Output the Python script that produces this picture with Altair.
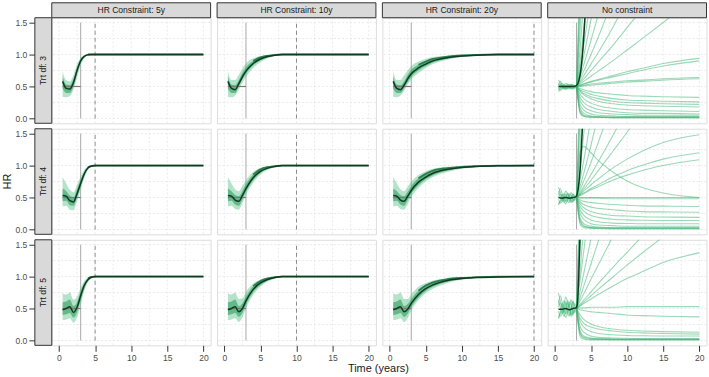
import altair as alt
import pandas as pd

# ---------------- labels / ticks ----------------
COL_LABELS = ["HR Constraint: 5y", "HR Constraint: 10y", "HR Constraint: 20y", "No constraint"]
ROW_LABELS = ["Trt df: 3", "Trt df: 4", "Trt df: 5"]
CONSTRAINT_AT = [5, 10, 20]
X_TICKS = [0, 5, 10, 15, 20]
Y_TICKS = [0.0, 0.5, 1.0, 1.5]
GRID_X = [0, 2.5, 5, 7.5, 10, 12.5, 15, 17.5, 20]
GRID_Y = [0, 0.25, 0.5, 0.75, 1.0, 1.25, 1.5]
CHANGE_POINT = 3
TRUE_HR = 0.5
TRUE_START = 0.5

# ---------------- constrained panels: time grids ----------------
X5 = [0.5, 1, 1.5, 2, 2.5, 3, 3.5, 4, 4.5, 5, 20]
X10 = [0.5, 1, 1.5, 2, 2.5, 3, 4, 5, 6, 7, 8, 10, 20]
X20 = [0.5, 1, 1.5, 2, 2.5, 3, 4, 5, 6, 8, 10, 12, 15, 20]

# Trt df 3
DF3_C5_LO = [0.34, 0.33, 0.35, 0.45, 0.64, 0.83, 0.94, 0.985, 1.0, 1.0, 1.0]
DF3_C5_LOIN = [0.47, 0.40, 0.40, 0.50, 0.70, 0.87, 0.955, 0.99, 1.0, 1.0, 1.0]
DF3_C5_MED = [0.58, 0.47, 0.46, 0.56, 0.75, 0.90, 0.97, 0.995, 1.0, 1.0, 1.0]
DF3_C5_HIIN = [0.66, 0.53, 0.52, 0.62, 0.80, 0.93, 0.98, 1.0, 1.0, 1.0, 1.0]
DF3_C5_HI = [0.74, 0.60, 0.58, 0.68, 0.85, 0.95, 0.99, 1.0, 1.0, 1.0, 1.0]

DF3_C10_LO = [0.34, 0.33, 0.36, 0.45, 0.56, 0.65, 0.79, 0.88, 0.94, 0.975, 0.99, 1.0, 1.0]
DF3_C10_LOIN = [0.47, 0.40, 0.40, 0.50, 0.61, 0.70, 0.83, 0.91, 0.955, 0.985, 0.995, 1.0, 1.0]
DF3_C10_MED = [0.58, 0.47, 0.45, 0.54, 0.65, 0.74, 0.86, 0.93, 0.97, 0.99, 1.0, 1.0, 1.0]
DF3_C10_HIIN = [0.66, 0.53, 0.52, 0.60, 0.71, 0.80, 0.90, 0.955, 0.98, 0.995, 1.0, 1.0, 1.0]
DF3_C10_HI = [0.74, 0.60, 0.60, 0.68, 0.78, 0.86, 0.94, 0.975, 0.99, 1.0, 1.0, 1.0, 1.0]

DF3_C20_LO = [0.34, 0.33, 0.36, 0.43, 0.53, 0.61, 0.71, 0.79, 0.85, 0.92, 0.96, 0.98, 0.995, 1.0]
DF3_C20_LOIN = [0.47, 0.40, 0.40, 0.47, 0.57, 0.65, 0.75, 0.82, 0.875, 0.935, 0.965, 0.985, 0.997, 1.0]
DF3_C20_MED = [0.58, 0.47, 0.45, 0.52, 0.62, 0.70, 0.79, 0.85, 0.90, 0.95, 0.975, 0.99, 1.0, 1.0]
DF3_C20_HIIN = [0.66, 0.53, 0.52, 0.58, 0.68, 0.76, 0.84, 0.89, 0.93, 0.965, 0.985, 0.995, 1.0, 1.0]
DF3_C20_HI = [0.74, 0.60, 0.60, 0.67, 0.75, 0.82, 0.89, 0.93, 0.96, 0.98, 0.99, 0.995, 1.0, 1.0]

# Trt df 4
DF4_C5_LO = [0.36, 0.37, 0.31, 0.30, 0.44, 0.62, 0.80, 0.93, 0.985, 1.0, 1.0]
DF4_C5_LOIN = [0.44, 0.45, 0.38, 0.37, 0.50, 0.67, 0.84, 0.945, 0.99, 1.0, 1.0]
DF4_C5_MED = [0.53, 0.52, 0.45, 0.43, 0.56, 0.72, 0.87, 0.96, 0.99, 1.0, 1.0]
DF4_C5_HIIN = [0.64, 0.60, 0.53, 0.50, 0.63, 0.78, 0.90, 0.975, 0.995, 1.0, 1.0]
DF4_C5_HI = [0.82, 0.72, 0.62, 0.58, 0.70, 0.83, 0.93, 0.985, 1.0, 1.0, 1.0]

DF4_C10_LO = [0.36, 0.37, 0.32, 0.31, 0.41, 0.54, 0.73, 0.86, 0.93, 0.97, 0.99, 1.0, 1.0]
DF4_C10_LOIN = [0.44, 0.45, 0.39, 0.37, 0.47, 0.59, 0.77, 0.885, 0.945, 0.978, 0.995, 1.0, 1.0]
DF4_C10_MED = [0.53, 0.52, 0.46, 0.44, 0.53, 0.64, 0.81, 0.91, 0.96, 0.985, 1.0, 1.0, 1.0]
DF4_C10_HIIN = [0.64, 0.60, 0.54, 0.52, 0.60, 0.71, 0.86, 0.94, 0.975, 0.99, 1.0, 1.0, 1.0]
DF4_C10_HI = [0.82, 0.72, 0.63, 0.60, 0.68, 0.77, 0.90, 0.96, 0.985, 0.995, 1.0, 1.0, 1.0]

DF4_C20_LO = [0.36, 0.37, 0.32, 0.31, 0.40, 0.51, 0.65, 0.75, 0.82, 0.90, 0.95, 0.975, 0.99, 1.0]
DF4_C20_LOIN = [0.44, 0.45, 0.39, 0.37, 0.46, 0.56, 0.69, 0.785, 0.85, 0.92, 0.96, 0.98, 0.993, 1.0]
DF4_C20_MED = [0.53, 0.52, 0.46, 0.44, 0.52, 0.61, 0.74, 0.82, 0.88, 0.94, 0.97, 0.985, 0.995, 1.0]
DF4_C20_HIIN = [0.64, 0.60, 0.54, 0.52, 0.59, 0.68, 0.80, 0.87, 0.92, 0.96, 0.98, 0.99, 0.998, 1.0]
DF4_C20_HI = [0.82, 0.72, 0.63, 0.60, 0.67, 0.75, 0.85, 0.91, 0.95, 0.98, 0.99, 0.995, 1.0, 1.0]

# Trt df 5
DF5_C5_LO = [0.32, 0.33, 0.35, 0.28, 0.36, 0.56, 0.77, 0.91, 0.975, 1.0, 1.0]
DF5_C5_LOIN = [0.40, 0.41, 0.43, 0.36, 0.44, 0.63, 0.81, 0.93, 0.985, 1.0, 1.0]
DF5_C5_MED = [0.48, 0.50, 0.53, 0.44, 0.52, 0.70, 0.86, 0.95, 0.99, 1.0, 1.0]
DF5_C5_HIIN = [0.60, 0.61, 0.64, 0.54, 0.60, 0.77, 0.90, 0.97, 0.995, 1.0, 1.0]
DF5_C5_HI = [0.74, 0.72, 0.75, 0.64, 0.68, 0.82, 0.93, 0.98, 1.0, 1.0, 1.0]

DF5_C10_LO = [0.32, 0.33, 0.35, 0.29, 0.36, 0.50, 0.71, 0.84, 0.92, 0.965, 0.99, 1.0, 1.0]
DF5_C10_LOIN = [0.40, 0.41, 0.43, 0.37, 0.43, 0.56, 0.755, 0.87, 0.94, 0.975, 0.995, 1.0, 1.0]
DF5_C10_MED = [0.48, 0.50, 0.53, 0.45, 0.50, 0.62, 0.80, 0.90, 0.955, 0.985, 1.0, 1.0, 1.0]
DF5_C10_HIIN = [0.60, 0.61, 0.64, 0.54, 0.58, 0.69, 0.85, 0.93, 0.97, 0.99, 1.0, 1.0, 1.0]
DF5_C10_HI = [0.74, 0.72, 0.75, 0.65, 0.66, 0.76, 0.89, 0.955, 0.985, 0.995, 1.0, 1.0, 1.0]

DF5_C20_LO = [0.32, 0.33, 0.35, 0.29, 0.35, 0.47, 0.63, 0.74, 0.81, 0.90, 0.95, 0.975, 0.99, 1.0]
DF5_C20_LOIN = [0.40, 0.41, 0.43, 0.37, 0.42, 0.52, 0.67, 0.775, 0.84, 0.92, 0.96, 0.98, 0.993, 1.0]
DF5_C20_MED = [0.48, 0.50, 0.53, 0.45, 0.49, 0.58, 0.72, 0.81, 0.87, 0.94, 0.97, 0.985, 0.995, 1.0]
DF5_C20_HIIN = [0.60, 0.61, 0.64, 0.54, 0.57, 0.65, 0.78, 0.86, 0.91, 0.96, 0.98, 0.99, 0.998, 1.0]
DF5_C20_HI = [0.74, 0.72, 0.75, 0.65, 0.65, 0.72, 0.84, 0.90, 0.94, 0.975, 0.99, 0.995, 1.0, 1.0]

# ---------------- unconstrained panels ----------------
NC_PRE_X = [0.5, 0.75, 1.0, 1.25, 1.5, 1.75, 2.0, 2.25, 2.5, 2.75, 3.0]
NC_POST_X = [3, 3.5, 4, 5, 6, 8, 10, 12, 15, 20]

DF3_NC_PRE = [
    [0.55, 0.50, 0.47, 0.49, 0.52, 0.50, 0.48, 0.51, 0.53, 0.50, 0.50],
    [0.45, 0.48, 0.52, 0.50, 0.47, 0.49, 0.53, 0.50, 0.48, 0.49, 0.50],
    [0.60, 0.55, 0.50, 0.46, 0.48, 0.52, 0.50, 0.47, 0.50, 0.52, 0.50],
    [0.42, 0.46, 0.49, 0.53, 0.51, 0.47, 0.46, 0.50, 0.52, 0.51, 0.50],
    [0.52, 0.58, 0.54, 0.48, 0.45, 0.48, 0.51, 0.54, 0.49, 0.48, 0.50],
    [0.48, 0.44, 0.46, 0.51, 0.55, 0.53, 0.49, 0.46, 0.47, 0.50, 0.50],
    [0.50, 0.53, 0.51, 0.47, 0.50, 0.54, 0.52, 0.48, 0.46, 0.49, 0.50],
    [0.47, 0.51, 0.55, 0.52, 0.48, 0.46, 0.49, 0.53, 0.51, 0.47, 0.50],
]
DF3_NC_POST = [
    [0.50, 2.00],
    [0.50, 1.75],
    [0.52, 2.40],
    [0.50, 1.40, 2.50],
    [0.52, 1.10, 1.90],
    [0.50, 0.90, 1.40, 2.60],
    [0.50, 0.80, 1.15, 1.90],
    [0.50, 0.72, 0.98, 1.55, 2.20],
    [0.50, 0.66, 0.84, 1.22, 1.62],
    [0.50, 0.62, 0.74, 1.00, 1.27, 1.85],
    [0.50, 0.58, 0.67, 0.85, 1.03, 1.42, 1.85],
    [0.50, 0.56, 0.62, 0.75, 0.88, 1.14, 1.42, 1.70],
    [0.50, 0.54, 0.58, 0.66, 0.74, 0.90, 1.07, 1.24, 1.50, 1.95],
    [0.50, 0.52, 0.54, 0.58, 0.61, 0.67, 0.73, 0.78, 0.86, 0.94],
    [0.50, 0.52, 0.54, 0.57, 0.60, 0.65, 0.70, 0.75, 0.82, 0.90],
    [0.50, 0.51, 0.52, 0.54, 0.55, 0.57, 0.59, 0.60, 0.62, 0.64],
    [0.50, 0.50, 0.51, 0.52, 0.53, 0.55, 0.57, 0.58, 0.60, 0.62],
    [0.50, 0.47, 0.45, 0.42, 0.40, 0.38, 0.36, 0.35, 0.34, 0.33],
    [0.50, 0.45, 0.42, 0.38, 0.35, 0.31, 0.29, 0.28, 0.27, 0.26],
    [0.50, 0.43, 0.39, 0.34, 0.31, 0.27, 0.25, 0.24, 0.23, 0.22],
    [0.50, 0.42, 0.37, 0.31, 0.27, 0.23, 0.21, 0.20, 0.19, 0.18],
    [0.50, 0.38, 0.31, 0.24, 0.20, 0.16, 0.14, 0.13, 0.12, 0.11],
    [0.50, 0.33, 0.25, 0.18, 0.14, 0.11, 0.09, 0.08, 0.08, 0.07],
    [0.50, 0.28, 0.19, 0.12, 0.09, 0.07, 0.06, 0.05, 0.05, 0.05],
    [0.50, 0.22, 0.13, 0.07, 0.05, 0.04, 0.03, 0.03, 0.03, 0.03],
    [0.50, 0.16, 0.08, 0.04, 0.03, 0.02, 0.02, 0.02, 0.02, 0.02],
    [0.50, 0.12, 0.05, 0.03, 0.02, 0.02, 0.02, 0.02, 0.02, 0.02],
    [0.50, 0.08, 0.03, 0.02, 0.02, 0.01, 0.01, 0.01, 0.01, 0.01],
    [0.50, 0.10, 0.04, 0.02, 0.02, 0.02, 0.02, 0.02, 0.02, 0.02],
]
DF3_NC_MED_X = [0.5, 1, 1.5, 2, 2.5, 2.9, 3.2, 3.4, 3.6, 3.8, 4.0, 4.2]
DF3_NC_MED = [0.50, 0.50, 0.50, 0.50, 0.50, 0.51, 0.55, 0.63, 0.76, 0.98, 1.28, 1.65]

DF4_NC_PRE = [
    [0.60, 0.52, 0.44, 0.48, 0.56, 0.50, 0.44, 0.50, 0.56, 0.50, 0.50],
    [0.40, 0.46, 0.55, 0.52, 0.44, 0.47, 0.56, 0.52, 0.45, 0.48, 0.50],
    [0.66, 0.58, 0.50, 0.42, 0.46, 0.55, 0.51, 0.44, 0.50, 0.54, 0.50],
    [0.38, 0.44, 0.48, 0.56, 0.52, 0.44, 0.42, 0.50, 0.55, 0.52, 0.50],
    [0.54, 0.64, 0.56, 0.46, 0.40, 0.46, 0.52, 0.58, 0.48, 0.46, 0.50],
    [0.47, 0.41, 0.44, 0.52, 0.60, 0.56, 0.48, 0.42, 0.45, 0.50, 0.50],
    [0.50, 0.55, 0.52, 0.45, 0.50, 0.57, 0.53, 0.46, 0.43, 0.49, 0.50],
]
DF4_NC_POST = [
    [0.50, 2.00],
    [0.50, 1.75],
    [0.52, 2.40],
    [0.50, 1.30, 2.30],
    [0.50, 0.95, 1.50, 2.60],
    [0.50, 0.78, 1.08, 1.75],
    [0.50, 0.68, 0.88, 1.32, 1.80],
    [0.50, 0.62, 0.76, 1.05, 1.36, 2.00],
    [0.50, 0.58, 0.67, 0.86, 1.06, 1.46, 1.90],
    [0.50, 0.56, 0.63, 0.77, 0.92, 1.22, 1.52, 1.85],
    [0.50, 0.55, 0.60, 0.70, 0.79, 0.96, 1.10, 1.22, 1.36, 1.48],
    [0.50, 0.54, 0.57, 0.64, 0.70, 0.82, 0.92, 1.00, 1.10, 1.20],
    [0.50, 0.53, 0.56, 0.62, 0.67, 0.77, 0.85, 0.92, 1.00, 1.09],
    [0.50, 1.20, 1.30, 1.20, 1.08, 0.90, 0.76, 0.66, 0.57, 0.50],
    [0.50, 0.50, 0.50, 0.50, 0.50, 0.50, 0.50, 0.50, 0.50, 0.50],
    [0.50, 0.49, 0.49, 0.49, 0.49, 0.48, 0.48, 0.48, 0.48, 0.48],
    [0.50, 0.46, 0.44, 0.42, 0.41, 0.39, 0.38, 0.37, 0.365, 0.36],
    [0.50, 0.43, 0.39, 0.35, 0.33, 0.31, 0.29, 0.28, 0.275, 0.27],
    [0.50, 0.40, 0.34, 0.28, 0.25, 0.22, 0.21, 0.20, 0.195, 0.19],
    [0.50, 0.36, 0.29, 0.22, 0.19, 0.16, 0.15, 0.145, 0.14, 0.14],
    [0.50, 0.31, 0.22, 0.15, 0.12, 0.10, 0.095, 0.09, 0.09, 0.09],
    [0.50, 0.25, 0.16, 0.09, 0.07, 0.06, 0.05, 0.05, 0.05, 0.05],
    [0.50, 0.18, 0.09, 0.05, 0.04, 0.03, 0.03, 0.03, 0.03, 0.03],
    [0.50, 0.12, 0.05, 0.03, 0.02, 0.02, 0.02, 0.02, 0.02, 0.02],
    [0.50, 0.08, 0.03, 0.02, 0.015, 0.01, 0.01, 0.01, 0.01, 0.01],
    [0.50, 0.14, 0.06, 0.03, 0.03, 0.02, 0.02, 0.02, 0.02, 0.02],
]
DF4_NC_MED_X = [0.5, 1, 1.5, 2, 2.5, 2.9, 3.1, 3.3, 3.5, 3.7, 3.9]
DF4_NC_MED = [0.50, 0.49, 0.50, 0.49, 0.50, 0.51, 0.56, 0.70, 0.95, 1.35, 1.80]

DF5_NC_PRE = [
    [0.64, 0.52, 0.42, 0.47, 0.60, 0.52, 0.40, 0.50, 0.62, 0.50, 0.50],
    [0.36, 0.45, 0.58, 0.54, 0.42, 0.46, 0.60, 0.54, 0.42, 0.47, 0.50],
    [0.74, 0.62, 0.50, 0.38, 0.44, 0.58, 0.52, 0.40, 0.50, 0.58, 0.50],
    [0.34, 0.42, 0.48, 0.62, 0.55, 0.42, 0.38, 0.50, 0.60, 0.54, 0.50],
    [0.56, 0.70, 0.60, 0.45, 0.36, 0.44, 0.54, 0.64, 0.48, 0.44, 0.50],
    [0.46, 0.38, 0.42, 0.54, 0.68, 0.60, 0.48, 0.38, 0.44, 0.50, 0.50],
    [0.52, 0.58, 0.54, 0.44, 0.50, 0.62, 0.56, 0.44, 0.40, 0.48, 0.50],
]
DF5_NC_POST = [
    [0.50, 2.20],
    [0.50, 1.80],
    [0.52, 2.50],
    [0.50, 1.50, 2.60],
    [0.50, 1.10, 1.80],
    [0.50, 0.95, 1.40, 2.30],
    [0.50, 0.78, 1.05, 1.60],
    [0.50, 0.68, 0.85, 1.20, 1.55, 2.20],
    [0.50, 0.62, 0.73, 0.96, 1.18, 1.62],
    [0.50, 0.57, 0.63, 0.76, 0.89, 1.14, 1.38, 1.62],
    [0.50, 0.55, 0.60, 0.70, 0.80, 0.99, 1.18, 1.36, 1.62, 2.00],
    [0.50, 0.54, 0.58, 0.65, 0.72, 0.85, 0.97, 1.07, 1.22, 1.37],
    [0.50, 0.51, 0.51, 0.52, 0.52, 0.52, 0.53, 0.53, 0.53, 0.53],
    [0.50, 0.48, 0.47, 0.45, 0.44, 0.42, 0.40, 0.39, 0.38, 0.37],
    [0.50, 0.40, 0.33, 0.26, 0.22, 0.18, 0.16, 0.15, 0.14, 0.13],
    [0.50, 0.35, 0.27, 0.21, 0.18, 0.15, 0.13, 0.12, 0.11, 0.10],
    [0.50, 0.30, 0.21, 0.14, 0.11, 0.09, 0.08, 0.075, 0.07, 0.07],
    [0.50, 0.22, 0.13, 0.07, 0.05, 0.04, 0.035, 0.03, 0.03, 0.03],
    [0.50, 0.15, 0.07, 0.04, 0.03, 0.025, 0.02, 0.02, 0.02, 0.02],
    [0.50, 0.10, 0.04, 0.02, 0.02, 0.015, 0.015, 0.015, 0.015, 0.015],
    [0.50, 0.06, 0.02, 0.01, 0.01, 0.01, 0.01, 0.01, 0.01, 0.01],
    [0.50, 0.12, 0.05, 0.03, 0.02, 0.02, 0.02, 0.02, 0.02, 0.02],
]
DF5_NC_MED_X = [0.5, 1, 1.5, 2, 2.5, 2.9, 3.1, 3.2, 3.3, 3.4, 3.5]
DF5_NC_MED = [0.49, 0.49, 0.50, 0.48, 0.50, 0.51, 0.56, 0.72, 1.00, 1.35, 1.75]

# ---------------- tables built from the arrays ----------------
BANDS = {
    (0, 0): (X5, DF3_C5_LO, DF3_C5_LOIN, DF3_C5_MED, DF3_C5_HIIN, DF3_C5_HI),
    (0, 1): (X10, DF3_C10_LO, DF3_C10_LOIN, DF3_C10_MED, DF3_C10_HIIN, DF3_C10_HI),
    (0, 2): (X20, DF3_C20_LO, DF3_C20_LOIN, DF3_C20_MED, DF3_C20_HIIN, DF3_C20_HI),
    (1, 0): (X5, DF4_C5_LO, DF4_C5_LOIN, DF4_C5_MED, DF4_C5_HIIN, DF4_C5_HI),
    (1, 1): (X10, DF4_C10_LO, DF4_C10_LOIN, DF4_C10_MED, DF4_C10_HIIN, DF4_C10_HI),
    (1, 2): (X20, DF4_C20_LO, DF4_C20_LOIN, DF4_C20_MED, DF4_C20_HIIN, DF4_C20_HI),
    (2, 0): (X5, DF5_C5_LO, DF5_C5_LOIN, DF5_C5_MED, DF5_C5_HIIN, DF5_C5_HI),
    (2, 1): (X10, DF5_C10_LO, DF5_C10_LOIN, DF5_C10_MED, DF5_C10_HIIN, DF5_C10_HI),
    (2, 2): (X20, DF5_C20_LO, DF5_C20_LOIN, DF5_C20_MED, DF5_C20_HIIN, DF5_C20_HI),
}
NC = {
    0: (DF3_NC_PRE, DF3_NC_POST, DF3_NC_MED_X, DF3_NC_MED),
    1: (DF4_NC_PRE, DF4_NC_POST, DF4_NC_MED_X, DF4_NC_MED),
    2: (DF5_NC_PRE, DF5_NC_POST, DF5_NC_MED_X, DF5_NC_MED),
}

W, H = 159.5, 106
STRIP = 15
FONT = "Liberation Sans"
GREEN = "#3CB371"
DARK = "#113A22"
XS = alt.Scale(domain=[-1, 21], nice=False, zero=False)
YS = alt.Scale(domain=[-0.075, 1.575], nice=False, zero=False)


def xenc(field, show):
    if show:
        ax = alt.Axis(values=X_TICKS, title=None, grid=False, domain=False, tickSize=6,
                      tickColor="#333333", labelPadding=2, labelFontSize=8.6,
                      labelColor="#4D4D4D", labelFont=FONT)
    else:
        ax = None
    return alt.X(f"{field}:Q", scale=XS, axis=ax)


def yenc(field, show):
    if show:
        ax = alt.Axis(values=Y_TICKS, format=".1f", title=None, grid=False, domain=False,
                      tickSize=6, tickColor="#333333", labelPadding=2, labelFontSize=8.6,
                      labelColor="#4D4D4D", labelFont=FONT, offset=STRIP + 2)
    else:
        ax = None
    return alt.Y(f"{field}:Q", scale=YS, axis=ax)


def panel(r, c):
    sx = r == 2
    sy = c == 0
    layers = []
    gx = pd.DataFrame({"gx": GRID_X})
    gy = pd.DataFrame({"gy": GRID_Y})
    layers.append(alt.Chart(gx).mark_rule(color="#E4E4E4", strokeWidth=0.8, strokeDash=[2, 2])
                  .encode(x=xenc("gx", sx)))
    layers.append(alt.Chart(gy).mark_rule(color="#E4E4E4", strokeWidth=0.8, strokeDash=[2, 2])
                  .encode(y=yenc("gy", sy)))
    # reference lines
    vref = pd.DataFrame({"vx": [CHANGE_POINT], "y0": [0.0], "y1": [1.5]})
    layers.append(alt.Chart(vref).mark_rule(color="#A8A8A8", strokeWidth=1)
                  .encode(x=xenc("vx", sx), y=yenc("y0", sy), y2="y1:Q"))
    if c < 3:
        dref = pd.DataFrame({"vx": [CONSTRAINT_AT[c]], "y0": [0.0], "y1": [1.5]})
        layers.append(alt.Chart(dref).mark_rule(color="#8C8C8C", strokeWidth=1, strokeDash=[4, 3])
                      .encode(x=xenc("vx", sx), y=yenc("y0", sy), y2="y1:Q"))
        xs, lo, loin, med, hiin, hi = BANDS[(r, c)]
        bd = pd.DataFrame({"x": xs, "lo": lo, "loin": loin, "med": med, "hiin": hiin, "hi": hi})
        layers.append(alt.Chart(bd).mark_area(interpolate="monotone", color="#5CC08A", opacity=0.45)
                      .encode(x=xenc("x", sx), y=yenc("lo", sy), y2="hi:Q"))
        layers.append(alt.Chart(bd).mark_area(interpolate="monotone", color="#2E9D5E", opacity=0.6)
                      .encode(x=xenc("x", sx), y=yenc("loin", sy), y2="hiin:Q"))
        layers.append(alt.Chart(bd).mark_line(interpolate="monotone", color="#2E7D4F", strokeWidth=1.8)
                      .encode(x=xenc("x", sx), y=yenc("hiin", sy)).transform_filter("datum.x >= 4"))
        seg = pd.DataFrame({"sx": [TRUE_START, CHANGE_POINT], "sy": [TRUE_HR, TRUE_HR]})
        layers.append(alt.Chart(seg).mark_line(color="#7A7A7A", strokeWidth=1.2)
                      .encode(x=xenc("sx", sx), y=yenc("sy", sy)))
        layers.append(alt.Chart(bd).mark_line(interpolate="monotone", color=DARK, strokeWidth=1.5)
                      .encode(x=xenc("x", sx), y=yenc("med", sy)))
    else:
        pre, post, mx, my = NC[r]
        rows = []
        for i, ln in enumerate(pre):
            for xv, yv in zip(NC_PRE_X, ln):
                rows.append({"id": f"p{i}", "x": xv, "y": yv})
        for i, ln in enumerate(post):
            for xv, yv in zip(NC_POST_X, ln):
                rows.append({"id": f"q{i}", "x": xv, "y": yv})
        ld = pd.DataFrame(rows)
        layers.append(alt.Chart(ld).mark_line(interpolate="monotone", color=GREEN, opacity=0.5,
                                              strokeWidth=1.1, clip=True)
                      .encode(x=xenc("x", sx), y=yenc("y", sy), detail="id:N"))
        md = pd.DataFrame({"x": mx, "y": my})
        layers.append(alt.Chart(md).mark_line(interpolate="monotone", color=DARK, strokeWidth=1.5, clip=True)
                      .encode(x=xenc("x", sx), y=yenc("y", sy)))
    # strips
    if r == 0:
        t = pd.DataFrame({"t": [COL_LABELS[c]]})
        layers.append(alt.Chart(t).mark_rect(fill="#D9D9D9", stroke="#333333", strokeWidth=1)
                      .encode(x=alt.value(0), x2=alt.value(W), y=alt.value(-STRIP), y2=alt.value(0)))
        layers.append(alt.Chart(t).mark_text(fontSize=8.6, color="#1A1A1A", font=FONT, baseline="middle")
                      .encode(text="t:N", x=alt.value(W / 2), y=alt.value(-STRIP / 2)))
    if c == 0:
        t = pd.DataFrame({"t": [ROW_LABELS[r]]})
        layers.append(alt.Chart(t).mark_rect(fill="#D9D9D9", stroke="#333333", strokeWidth=1)
                      .encode(x=alt.value(-STRIP - 2), x2=alt.value(0), y=alt.value(0), y2=alt.value(H)))
        layers.append(alt.Chart(t).mark_text(fontSize=8.6, color="#1A1A1A", font=FONT, angle=270,
                                             baseline="middle")
                      .encode(text="t:N", x=alt.value(-(STRIP + 2) / 2), y=alt.value(H / 2)))
        if r == 1:
            layers.append(alt.Chart(pd.DataFrame({"t": ["HR"]}))
                          .mark_text(fontSize=11, color="#1A1A1A", font=FONT, angle=270, baseline="middle")
                          .encode(text="t:N", x=alt.value(-44), y=alt.value(H / 2)))
        if r == 2:
            layers.append(alt.Chart(pd.DataFrame({"t": ["Time (years)"]}))
                          .mark_text(fontSize=11, color="#1A1A1A", font=FONT, baseline="middle")
                          .encode(text="t:N", x=alt.value(328), y=alt.value(H + 24)))
    return alt.layer(*layers).properties(width=W, height=H)


panels = [panel(r, c) for r in range(3) for c in range(4)]
chart = alt.concat(*panels, columns=4, spacing={"row": 5.5, "column": 6}, bounds="flush").properties(
    padding={"left": 1, "top": 1, "right": 1, "bottom": 2}
).configure_view(stroke="#333333", strokeWidth=1).configure(font=FONT)

chart.save("out.html", embed_options={"renderer": "svg", "actions": False})
